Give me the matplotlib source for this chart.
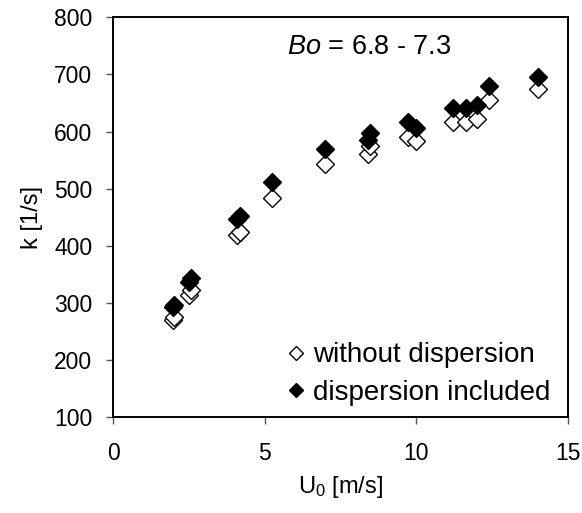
import matplotlib
matplotlib.use("Agg")
import matplotlib.pyplot as plt

plt.rcParams['font.family'] = ['Liberation Sans', 'DejaVu Sans']
plt.rcParams['mathtext.fontset'] = 'custom'
plt.rcParams['mathtext.rm'] = 'Liberation Sans'
plt.rcParams['mathtext.it'] = 'Liberation Sans:italic'

# Superficial gas velocity U0 [m/s]
u0 = [1.98, 2.02, 2.52, 2.56, 4.10, 4.20, 5.25, 7.00, 8.42, 8.48,
      9.72, 10.00, 11.20, 11.65, 12.00, 12.40, 14.00]
# k [1/s] without dispersion
k_without = [270, 275, 314, 323, 419, 425, 484, 544, 560, 574,
             591, 583, 616, 616, 622, 655, 674]
# k [1/s] with dispersion included
k_with = [293, 297, 336, 344, 447, 452, 511, 569, 585, 597,
          616, 607, 642, 641, 646, 679, 696]

fig = plt.figure(figsize=(5.82, 5.13), dpi=100)
ax = fig.add_axes([0.1942, 0.1866, 0.7818, 0.7797])

ax.plot(u0, k_without, linestyle='none', marker='D', markersize=9.5,
        markerfacecolor='white', markeredgecolor='black', markeredgewidth=1.0,
        label='without dispersion')
ax.plot(u0, k_with, linestyle='none', marker='D', markersize=9.5,
        markerfacecolor='black', markeredgecolor='black', markeredgewidth=1.0,
        label='dispersion included')

ax.set_xlim(0, 15)
ax.set_ylim(100, 800)
ax.set_xticks([0, 5, 10, 15])
ax.set_yticks(range(100, 801, 100))

for side in ['left', 'right', 'top', 'bottom']:
    ax.spines[side].set_linewidth(1.4)
ax.tick_params(axis='both', direction='out', length=5, width=1.0,
               color='#555555', labelsize=16.5)
ax.tick_params(axis='y', pad=10)
ax.tick_params(axis='x', pad=13)

ax.set_xlabel('U$_0$ [m/s]', fontsize=17, labelpad=6)
ax.set_ylabel('k [1/s]', fontsize=17, labelpad=8)

ax.text(8.45, 748, r'$\it{Bo}$ = 6.8 - 7.3', fontsize=19.5,
        ha='center', va='center')

ax.legend(loc='lower right', bbox_to_anchor=(0.985, 0.0), frameon=False,
          fontsize=20, markerscale=0.8, handlelength=0.6, handletextpad=0.3,
          labelspacing=0.42, borderaxespad=0.0)

fig.savefig('out.png', dpi=100)
